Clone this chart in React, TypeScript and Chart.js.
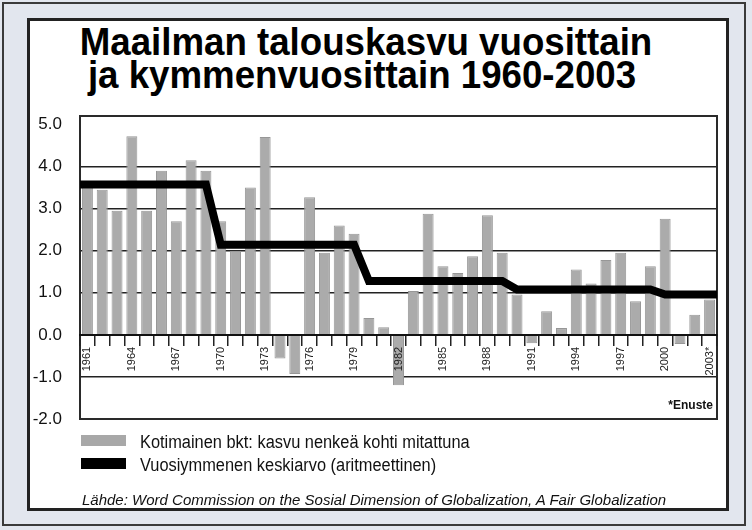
import React, { useEffect, useRef } from "react";
import { Chart, registerables } from "chart.js";

Chart.register(...registerables);

// ---- Data ----
const years: number[] = [
  1961, 1962, 1963, 1964, 1965, 1966, 1967, 1968, 1969,
  1970, 1971, 1972, 1973, 1974, 1975, 1976, 1977, 1978, 1979,
  1980, 1981, 1982, 1983, 1984, 1985, 1986, 1987, 1988, 1989,
  1990, 1991, 1992, 1993, 1994, 1995, 1996, 1997, 1998, 1999,
  2000, 2001, 2002, 2003,
];
const forecastYears: number[] = [2003];
const growth: number[] = [
  3.5, 3.45, 2.95, 4.72, 2.95, 3.9, 2.7, 4.15, 3.9,
  2.7, 2.0, 3.5, 4.7, -0.56, -0.93, 3.27, 1.95, 2.6, 2.4,
  0.4, 0.18, -1.2, 1.04, 2.88, 1.63, 1.47, 1.87, 2.84, 1.95,
  0.96, -0.2, 0.56, 0.16, 1.55, 1.22, 1.78, 1.95, 0.8, 1.63,
  2.76, -0.22, 0.48, 0.84,
];
const decadeStarts: number[] = [1961, 1970, 1980, 1990, 2000];
const decadeEnds: number[] = [1969, 1979, 1989, 1999, 2003];
const decadeAverages: number[] = [3.57, 2.14, 1.28, 1.08, 0.96];
const labelEvery = 3;
const yMin = -2;
const yMax = 5.2;

const titleLines = ["Maailman talouskasvu vuosittain", "ja kymmenvuosittain 1960-2003"];
const legendBars = "Kotimainen bkt: kasvu nenkeä kohti mitattuna";
const legendLine = "Vuosiymmenen keskiarvo (aritmeettinen)";
const forecastNote = "*Enuste";
const sourceText =
  "Lähde: Word Commission on the Sosial Dimension of Globalization, A Fair Globalization";

const yearLabels = years.map((y) => (forecastYears.includes(y) ? `${y}*` : String(y)));

const FONT = "'Liberation Sans', Arial, Helvetica, sans-serif";

const framePlugin = {
  id: "plotFrame",
  beforeDatasetsDraw(chart: any) {
    const { ctx, chartArea } = chart;
    ctx.save();
    ctx.strokeStyle = "#2a2a2a";
    ctx.lineWidth = 2;
    ctx.strokeRect(chartArea.left, chartArea.top, chartArea.right - chartArea.left, chartArea.bottom - chartArea.top);
    ctx.restore();
  },
};

export default function App() {
  const canvasRef = useRef<HTMLCanvasElement | null>(null);

  useEffect(() => {
    if (!canvasRef.current) return;
    const xMin = years[0] - 0.5;
    const xMax = years[years.length - 1] + 0.5;
    const linePoints: { x: number; y: number }[] = [];
    decadeAverages.forEach((avg, i) => {
      linePoints.push({ x: i === 0 ? xMin : decadeStarts[i], y: avg });
      linePoints.push({ x: i === decadeAverages.length - 1 ? xMax : decadeEnds[i], y: avg });
    });

    const chart = new Chart(canvasRef.current, {
      type: "bar",
      data: {
        labels: yearLabels,
        datasets: [
          {
            type: "bar",
            label: legendBars,
            data: growth,
            backgroundColor: "#ababab",
            borderColor: "#979797",
            borderWidth: 1,
            barPercentage: 0.74,
            categoryPercentage: 1,
            grouped: false,
            xAxisID: "x",
            order: 2,
          },
          {
            type: "line",
            label: legendLine,
            data: linePoints as any,
            borderColor: "#000000",
            borderWidth: 8,
            pointRadius: 0,
            tension: 0,
            borderJoinStyle: "miter",
            borderCapStyle: "butt",
            fill: false,
            xAxisID: "x2",
            order: 1,
          } as any,
        ],
      },
      options: {
        responsive: false,
        animation: false,
        devicePixelRatio: 1,
        layout: { padding: { left: 30, right: 35, top: 116, bottom: 111 } },
        plugins: {
          legend: { display: false },
          tooltip: { enabled: false },
          title: { display: false },
        },
        scales: {
          x: {
            type: "category",
            position: { y: 0 } as any,
            offset: true,
            grid: {
              display: true,
              drawOnChartArea: false,
              drawTicks: true,
              tickLength: 10,
              offset: true,
              color: "#222",
              lineWidth: 1.5,
              z: 1,
            },
            border: { display: true, color: "#111", width: 2, z: 1 },
            ticks: {
              z: 1,
              autoSkip: false,
              minRotation: 90,
              maxRotation: 90,
              padding: 2,
              color: "#222",
              font: { family: FONT, size: 11 },
              callback: (_v: any, index: number) => (index % labelEvery === 0 ? yearLabels[index] : ""),
            },
          } as any,
          x2: {
            type: "linear",
            display: false,
            offset: false,
            grid: { offset: false },
            min: xMin,
            max: xMax,
          } as any,
          y: {
            type: "linear",
            min: yMin,
            max: yMax,
            afterFit: (s: any) => {
              s.width = 50;
            },
            grid: {
              drawTicks: false,
              color: (c: any) => (c.tick && c.tick.value > 5 - 1e-6 ? "rgba(0,0,0,0)" : "#222"),
              lineWidth: 1.6,
            },
            border: { display: true, color: "#2a2a2a", width: 2 },
            ticks: {
              stepSize: 1,
              includeBounds: false,
              padding: 18,
              color: "#111",
              font: { family: FONT, size: 17 },
              callback: (v: any) => Number(v).toFixed(1),
            },
          },
        },
      },
      plugins: [framePlugin],
    });
    return () => chart.destroy();
  }, []);

  const legendText: React.CSSProperties = {
    position: "absolute",
    left: 140,
    fontSize: 18,
    lineHeight: "18px",
    color: "#111",
    whiteSpace: "nowrap",
    transform: "scaleX(0.91)",
    transformOrigin: "0 0",
  };

  return (
    <div
      style={{
        position: "fixed",
        left: 0,
        top: 0,
        width: 752,
        height: 530,
        background: "#e2e6ee",
        fontFamily: FONT,
        overflow: "hidden",
      }}
    >
      <div
        style={{
          position: "absolute",
          left: 2,
          top: 2,
          width: 744,
          height: 524,
          border: "2px solid #3a3a3a",
          boxSizing: "border-box",
        }}
      />
      <div
        style={{
          position: "absolute",
          left: 27,
          top: 18,
          width: 702,
          height: 493,
          border: "3px solid #222",
          boxSizing: "border-box",
          background: "#ffffff",
        }}
      />
      {titleLines.map((t, i) => (
        <div
          key={i}
          style={{
            position: "absolute",
            left: i === 0 ? 0 : -4,
            top: 22 + i * 33,
            width: 732,
            textAlign: "center",
            fontSize: 39,
            lineHeight: "39px",
            fontWeight: "bold",
            color: "#000",
            whiteSpace: "nowrap",
            transform: "scaleX(0.94)",
            transformOrigin: "366px 0",
          }}
        >
          {t}
        </div>
      ))}
      <canvas
        ref={canvasRef}
        width={752}
        height={530}
        style={{ position: "absolute", left: 0, top: 0, width: 752, height: 530 }}
      />
      <div
        style={{
          position: "absolute",
          right: 39,
          top: 399,
          fontSize: 12,
          lineHeight: "12px",
          fontWeight: "bold",
          color: "#111",
        }}
      >
        {forecastNote}
      </div>
      <div style={{ position: "absolute", left: 81, top: 435, width: 45, height: 11, background: "#a8a8a8" }} />
      <div style={{ ...legendText, top: 433 }}>{legendBars}</div>
      <div style={{ position: "absolute", left: 81, top: 458, width: 45, height: 11, background: "#000" }} />
      <div style={{ ...legendText, top: 456 }}>{legendLine}</div>
      <div
        style={{
          position: "absolute",
          left: 82,
          top: 492,
          fontSize: 15,
          lineHeight: "15px",
          fontStyle: "italic",
          color: "#111",
          whiteSpace: "nowrap",
        }}
      >
        {sourceText}
      </div>
    </div>
  );
}
